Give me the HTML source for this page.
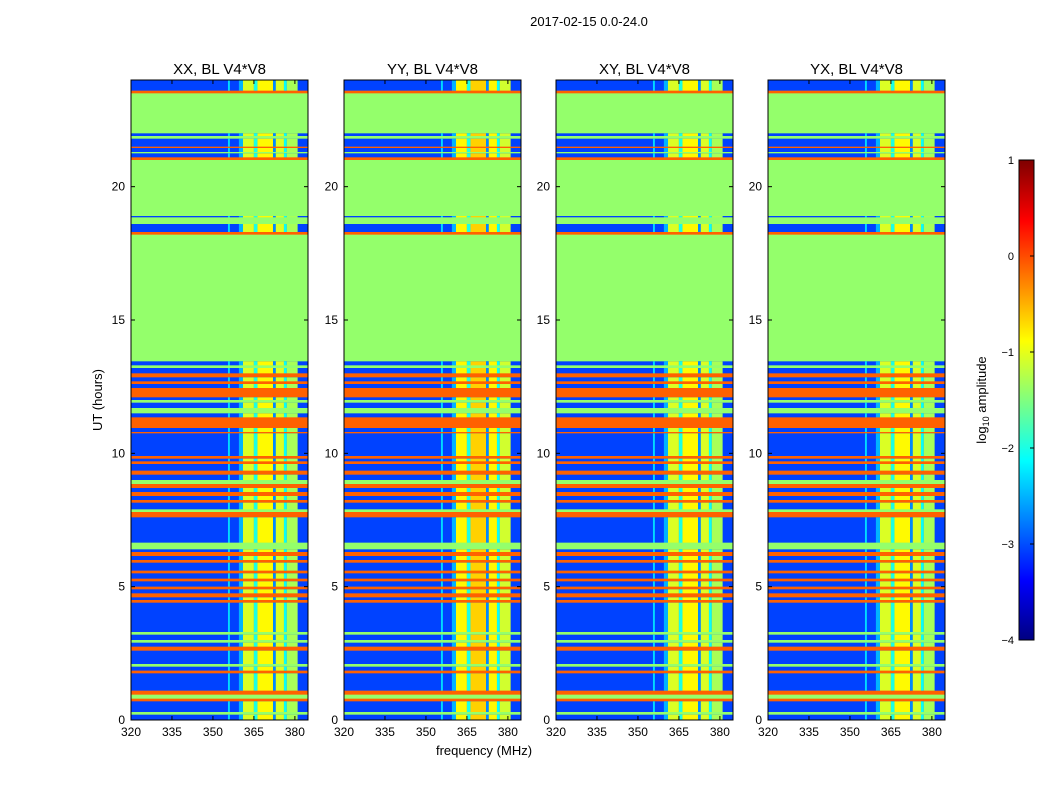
<!DOCTYPE html>
<html><head><meta charset="utf-8"><style>
body{margin:0;background:#fff;font-family:"Liberation Sans",sans-serif}
svg text{font-family:"Liberation Sans",sans-serif}
</style></head><body>
<svg id="fig" width="1050" height="800" xmlns="http://www.w3.org/2000/svg">
<rect width="1050" height="800" fill="#fff"/>
<text x="589" y="26" font-size="13" text-anchor="middle">2017-02-15 0.0-24.0</text>
<text x="484" y="755" font-size="13" text-anchor="middle">frequency (MHz)</text>
<text x="102" y="400" font-size="13" text-anchor="middle" transform="rotate(-90 102 400)">UT (hours)</text>
<g id="panels"></g>
<g id="cbar"></g>
</svg>
<script>
const panelTitles=["XX, BL V4*V8","YY, BL V4*V8","XY, BL V4*V8","YX, BL V4*V8"];
const panelRfiOffset=[0,0.2,0,0];
const xTicks=[320,335,350,365,380];
const yTicks=[0,5,10,15,20];
const cbTicks=[1,0,-1,-2,-3,-4];
const typeLevel={b:-3.05,o:-0.1,g:-1.4};
const rows=[[23.6,24,'b'],[23.5,23.6,'o'],[22.0,23.5,'g'],
[21.9,22.0,'b'],[21.8,21.9,'g'],[21.5,21.8,'b'],[21.45,21.5,'o'],[21.3,21.45,'b'],[21.25,21.3,'g'],[21.1,21.25,'b'],[21.0,21.1,'o'],
[18.9,21.0,'g'],[18.85,18.9,'b'],[18.6,18.85,'g'],[18.3,18.6,'b'],[18.2,18.3,'o'],[13.45,18.2,'g'],
[13.3,13.45,'b'],[13.2,13.3,'g'],[13.0,13.2,'b'],[12.85,13.0,'o'],[12.7,12.85,'b'],[12.6,12.7,'o'],[12.45,12.6,'b'],[12.1,12.45,'o'],[12.0,12.1,'b'],[11.9,12.0,'g'],[11.7,11.9,'b'],[11.5,11.7,'g'],[11.35,11.5,'b'],[10.95,11.35,'o'],[10.8,10.95,'b'],[10.75,10.8,'o'],
[9.9,10.75,'b'],[9.8,9.9,'o'],[9.7,9.8,'b'],[9.6,9.7,'o'],[9.35,9.6,'b'],[9.2,9.35,'o'],[9.0,9.2,'b'],[8.85,9.0,'g'],[8.7,8.85,'o'],[8.55,8.7,'b'],[8.4,8.55,'o'],[8.25,8.4,'b'],[8.15,8.25,'o'],[7.9,8.15,'b'],[7.8,7.9,'g'],[7.6,7.8,'o'],
[6.65,7.6,'b'],[6.4,6.65,'g'],[6.3,6.4,'b'],[6.15,6.3,'o'],[6.0,6.15,'b'],[5.9,6.0,'o'],[5.6,5.9,'b'],[5.5,5.6,'o'],[5.3,5.5,'b'],[5.2,5.3,'o'],[5.0,5.2,'b'],[4.9,5.0,'o'],[4.75,4.9,'b'],[4.6,4.75,'o'],[4.5,4.6,'b'],[4.4,4.5,'o'],
[3.3,4.4,'b'],[3.2,3.3,'g'],[3.0,3.2,'b'],[2.9,3.0,'g'],[2.75,2.9,'b'],[2.6,2.75,'o'],[2.1,2.6,'b'],[2.0,2.1,'g'],[1.85,2.0,'b'],[1.75,1.85,'o'],[1.1,1.75,'b'],[0.95,1.1,'o'],[0.8,0.95,'g'],[0.7,0.8,'o'],[0.3,0.7,'b'],[0.2,0.3,'g'],[0,0.2,'b']];
const rfiCols=[[355.5,356.2,-2.3],[359.5,361,-2.5],[361,365,-1.05],[365,366.3,-2.0],[366.3,372,-0.85],[372,373,-2.7],[373,376,-1.05],[376,377,-2.1],[377,381,-1.3]];
const X0=320,X1=384.8,Y0=0,Y1=24;
const panelLeft=[131,344,556,768],PW=177,PT=80,PB=720;
const NS="http://www.w3.org/2000/svg";
function jet(v){let t=(v+4)/5;t=Math.max(0,Math.min(1,t));
 const f=(a)=>Math.max(0,Math.min(1,1.5-Math.abs(4*t-a)));
 return `rgb(${Math.round(255*f(3))},${Math.round(255*f(2))},${Math.round(255*f(1))})`;}
function mk(tag,attrs,parent){const e=document.createElementNS(NS,tag);for(const k in attrs)e.setAttribute(k,attrs[k]);parent.appendChild(e);return e;}
const yS=h=>PB-(h-Y0)/(Y1-Y0)*(PB-PT);
const panelsG=document.getElementById('panels');
panelTitles.forEach((title,pi)=>{
 const L=panelLeft[pi];const xS=f=>L+(f-X0)/(X1-X0)*PW;
 const g=mk('g',{},panelsG);
 
 
 const cp=mk('clipPath',{id:'cp'+pi},g);mk('rect',{x:L,y:PT,width:PW,height:PB-PT},cp);
 const hg=mk('g',{'clip-path':'url(#cp'+pi+')'},g);
 rows.forEach(r=>{
  const y=yS(r[1]),h=yS(r[0])-y;
  const c=mk('rect',{x:L,y:y,width:PW,height:h+0.3,fill:jet(typeLevel[r[2]])},hg);
  
  
  if(r[2]==='b'){
   rfiCols.forEach(cl=>{
    const v=cl[2]>-1.5?cl[2]+panelRfiOffset[pi]:cl[2];
    const cc=mk('rect',{x:xS(cl[0]),y:y,width:xS(cl[1])-xS(cl[0]),height:h+0.3,fill:jet(v)},hg);
    
    
   });
  }
 });
 mk('rect',{x:L,y:PT,width:PW,height:PB-PT,fill:'none',stroke:'#000','stroke-width':1},g);
 const t=mk('text',{x:L+PW/2,y:PT-6,'font-size':15,'text-anchor':'middle'},g);t.textContent=title;
 
 
 xTicks.forEach(v=>{const x=xS(v);
  mk('line',{x1:x,x2:x,y1:PB,y2:PB-4,stroke:'#000'},g);mk('line',{x1:x,x2:x,y1:PT,y2:PT+4,stroke:'#000'},g);
  const tx=mk('text',{x:x,y:PB+16,'font-size':12,'text-anchor':'middle'},g);tx.textContent=v;
  
  });
 yTicks.forEach(v=>{const y=yS(v);
  mk('line',{x1:L,x2:L+4,y1:y,y2:y,stroke:'#000'},g);mk('line',{x1:L+PW,x2:L+PW-4,y1:y,y2:y,stroke:'#000'},g);
  const ty=mk('text',{x:L-6,y:y+4,'font-size':12,'text-anchor':'end'},g);ty.textContent=v;
  
  });
});
const cb=document.getElementById('cbar');


const CB={x:1019,w:15,t:160,b:640,vmin:-4,vmax:1};
const cbY=v=>CB.b-(v-CB.vmin)/(CB.vmax-CB.vmin)*(CB.b-CB.t);
for(let i=0;i<240;i++){const v0=CB.vmin+i*(5/240),v1=v0+5/240;
 mk('rect',{x:CB.x,y:cbY(v1),width:CB.w,height:cbY(v0)-cbY(v1)+0.5,fill:jet(v0+5/480)},cb);}
mk('rect',{x:CB.x,y:CB.t,width:CB.w,height:CB.b-CB.t,fill:'none',stroke:'#000'},cb);
cbTicks.forEach(v=>{const y=cbY(v);
 mk('line',{x1:CB.x+CB.w-4,x2:CB.x+CB.w,y1:y,y2:y,stroke:'#000'},cb);
 const t=mk('text',{x:CB.x-5,y:y+4,'font-size':11,'text-anchor':'end'},cb);t.textContent=(v<0?'\u2212'+(-v):v);
 
 });
const lab=mk('text',{x:986,y:400,'font-size':13,'text-anchor':'middle',transform:'rotate(-90 986 400)'},cb);
lab.innerHTML='log<tspan font-size="9" dy="3">10</tspan><tspan dy="-3"> amplitude</tspan>';


</script>
</body></html>
